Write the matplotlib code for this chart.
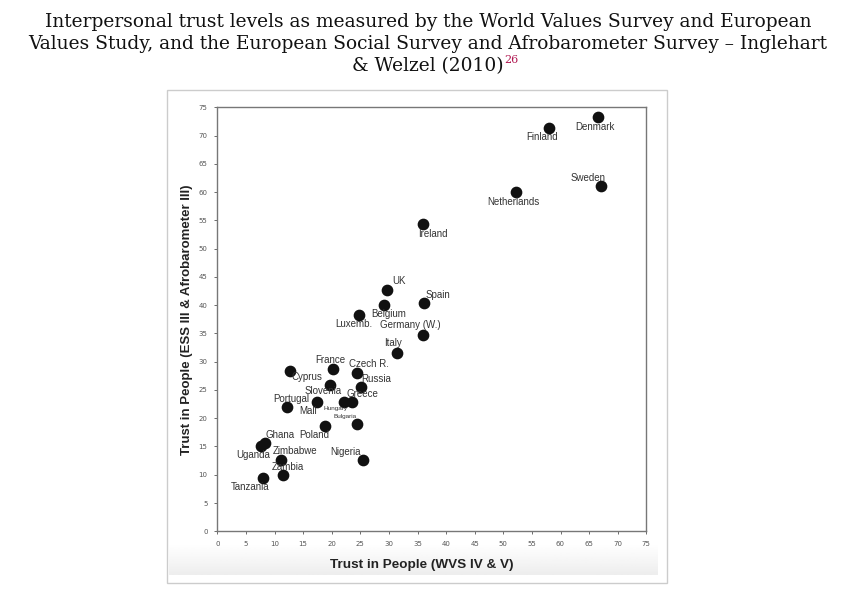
import matplotlib.pyplot as plt
from matplotlib.patches import Rectangle
import numpy as np

countries = ['Denmark', 'Finland', 'Sweden', 'Netherlands', 'Ireland', 'UK', 'Spain',
             'Belgium', 'Luxemb.', 'Germany (W.)', 'Italy', 'France', 'Cyprus', 'Czech R.',
             'Slovenia', 'Russia', 'Hungary', 'Greece', 'Mali', 'Portugal', 'Poland',
             'Bulgaria', 'Ghana', 'Uganda', 'Zimbabwe', 'Nigeria', 'Zambia', 'Tanzania']
wvs = [66.5, 58.0, 67.1, 52.2, 35.9, 29.6, 36.1,
       29.2, 24.7, 36.0, 31.4, 20.2, 12.7, 24.5,
       19.7, 25.1, 22.2, 23.6, 17.4, 12.2, 18.8,
       24.4, 8.4, 7.6, 11.1, 25.4, 11.5, 8.0]
ess = [73.3, 71.4, 61.1, 60.1, 54.3, 42.7, 40.3,
       40.1, 38.3, 34.8, 31.5, 28.7, 28.4, 28.0,
       25.9, 25.6, 22.9, 22.8, 22.9, 21.9, 18.6,
       18.9, 15.6, 15.0, 12.7, 12.6, 10.0, 9.5]

# label offsets in pixels (dx right, dy down) from the dot
offsets = {
    'Denmark': (-3, 10), 'Finland': (-7, 9), 'Sweden': (-13, -8), 'Netherlands': (-3, 10),
    'Ireland': (10, 10), 'UK': (12, -9), 'Spain': (14, -8), 'Belgium': (4, 9),
    'Luxemb.': (-5, 9), 'Germany (W.)': (-13, -10), 'Italy': (-4, -10), 'France': (-3, -9),
    'Cyprus': (17, 6), 'Czech R.': (11, -9), 'Slovenia': (-7, 6), 'Russia': (15, -8),
    'Hungary': (-9, 7), 'Greece': (10, -8), 'Mali': (-9, 9), 'Portugal': (4, -8),
    'Poland': (-11, 9), 'Bulgaria': (-12, -8), 'Ghana': (15, -8), 'Uganda': (-8, 9),
    'Zimbabwe': (14, -9), 'Nigeria': (-17, -8), 'Zambia': (5, -8), 'Tanzania': (-13, 9),
}
small = ['Hungary', 'Bulgaria']

W, H = 856, 591
fig = plt.figure(figsize=(W / 100, H / 100), dpi=100)

# outer frame with faint gradient at the bottom
fig.patches.append(Rectangle((167 / W, 1 - 583 / H), 500 / W, 493 / H,
                             transform=fig.transFigure, fill=False,
                             edgecolor='#cccccc', lw=1))
grad = fig.add_axes([169 / W, 1 - 575 / H, 489 / W, 30 / H], zorder=0)
grad.imshow(np.linspace(1, 0.93, 50).reshape(-1, 1), cmap='gray', vmin=0, vmax=1,
            aspect='auto', extent=[0, 1, 0, 1])
grad.axis('off')

ax = fig.add_axes([217.3 / W, 1 - 531.3 / H, 429 / W, 424 / H], zorder=1)
ax.patch.set_alpha(0)
ax.scatter(wvs, ess, s=55, color='#111111', zorder=3, clip_on=False)
for name, x, y in zip(countries, wvs, ess):
    dx, dy = offsets[name]
    ax.annotate(name, (x, y), xytext=(dx * 0.72, -dy * 0.72), textcoords='offset points',
                ha='center', va='center', fontsize=4.6 if name in small else 7,
                color='#333333', family='Liberation Sans')

ax.set_xlim(0, 75)
ax.set_ylim(0, 75)
ax.set_xticks(range(0, 80, 5))
ax.set_yticks(range(0, 80, 5))
ax.tick_params(labelsize=5, colors='#555555', length=2, width=0.6, pad=5)
for s in ax.spines.values():
    s.set_color('#777777')
    s.set_linewidth(1)
ax.set_xlabel('Trust in People (WVS IV & V)', fontsize=9.7, fontweight='bold',
              color='#222222', labelpad=9, family='Liberation Sans')
ax.xaxis.set_label_coords(0.477, -0.065)
ax.set_ylabel('Trust in People (ESS III & Afrobarometer III)', fontsize=9.5,
              fontweight='bold', color='#222222', labelpad=4, family='Liberation Sans')

title_lines = ['Interpersonal trust levels as measured by the World Values Survey and European',
               'Values Study, and the European Social Survey and Afrobarometer Survey \u2013 Inglehart',
               '& Welzel (2010)']
tys = [22, 44, 66]
last = None
for line, ty in zip(title_lines, tys):
    last = fig.text(0.5, 1 - ty / H, line, ha='center', va='center', fontsize=13.4,
                    family='DejaVu Serif', color='#111111')
fig.canvas.draw()
bb = last.get_window_extent()
fig.text(bb.x1 / W + 0.001, 1 - 60 / H, '26', ha='left', va='center', fontsize=8,
         color='#b0154f', family='DejaVu Serif')

fig.savefig('out.png', dpi=100)
